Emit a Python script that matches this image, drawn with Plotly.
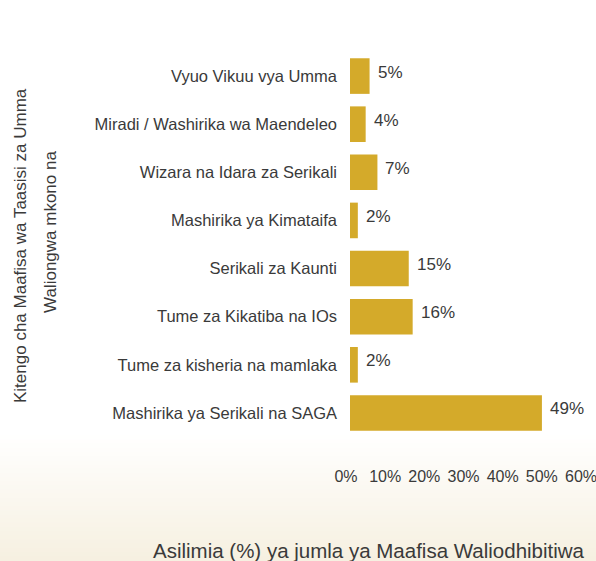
import plotly.graph_objects as go

categories = [
    "Vyuo Vikuu vya Umma",
    "Miradi / Washirika wa Maendeleo",
    "Wizara na Idara za Serikali",
    "Mashirika ya Kimataifa",
    "Serikali za Kaunti",
    "Tume za Kikatiba na IOs",
    "Tume za kisheria na mamlaka",
    "Mashirika ya Serikali na SAGA",
]
values = [5, 4, 7, 2, 15, 16, 2, 49]
labels = ["5%", "4%", "7%", "2%", "15%", "16%", "2%", "49%"]
tick_vals = [0, 10, 20, 30, 40, 50, 60]
tick_text = ["0%", "10%", "20%", "30%", "40%", "50%", "60%"]
y_title_lines = ["Kitengo cha Maafisa wa Taasisi za Umma", "Waliongwa mkono na"]
x_title = "Asilimia (%) ya jumla ya Maafisa Waliodhibitiwa"

W, H = 596, 561
ml, mr, mt, mb = 350, 11, 52, 124
plot_w = W - ml - mr
plot_h = H - mt - mb

font = "Liberation Sans, Arial, sans-serif"
txt = "#3a3a3a"


def px_x(x):
    return (x - ml) / plot_w


def px_y(y):
    return 1 - (y - mt) / plot_h


fig = go.Figure()
fig.add_trace(go.Bar(
    y=categories, x=values, orientation="h",
    marker=dict(color="#d4aa2a", line=dict(width=0)),
    hoverinfo="skip",
))

# background gradient strips (decorative)
shapes = []
n = 30
top_px, bot_px = 436, H
c0 = (255, 255, 255)
c1 = (246, 240, 224)
for i in range(n):
    y0px = top_px + (bot_px - top_px) * i / n
    y1px = top_px + (bot_px - top_px) * (i + 1) / n
    t = (i + 0.5) / n
    col = tuple(round(c0[k] + (c1[k] - c0[k]) * t) for k in range(3))
    shapes.append(dict(
        type="rect", xref="paper", yref="paper", layer="below",
        x0=px_x(0), x1=px_x(W),
        y0=px_y(y1px) - 0.002, y1=px_y(y0px) + 0.002,
        fillcolor="rgb(%d,%d,%d)" % col, line=dict(width=0),
    ))

annotations = [
    dict(x=v, y=c, text=t, xref="x", yref="y", xanchor="left",
         yanchor="middle", xshift=6, yshift=4, showarrow=False,
         font=dict(family=font, size=17, color=txt))
    for c, v, t in zip(categories, values, labels)
]
annotations += [
    dict(text=x_title, xref="paper", yref="paper", x=px_x(369),
         y=px_y(550), xanchor="center", yanchor="middle",
         showarrow=False, font=dict(family=font, size=20.5, color=txt)),
    dict(text=y_title_lines[0], xref="paper", yref="paper", x=px_x(21),
         y=px_y(246), xanchor="center", yanchor="middle",
         textangle=-90, showarrow=False,
         font=dict(family=font, size=17, color=txt)),
    dict(text=y_title_lines[1], xref="paper", yref="paper", x=px_x(51),
         y=px_y(232), xanchor="center", yanchor="middle",
         textangle=-90, showarrow=False,
         font=dict(family=font, size=17, color=txt)),
]

fig.update_layout(
    width=W, height=H,
    margin=dict(l=ml, r=mr, t=mt, b=mb, autoexpand=False),
    paper_bgcolor="white", plot_bgcolor="rgba(0,0,0,0)",
    showlegend=False, bargap=0.26,
    shapes=shapes,
    xaxis=dict(
        range=[0, 60], tickvals=tick_vals, ticktext=tick_text,
        showgrid=False, zeroline=False, showline=False, ticks="",
        tickfont=dict(family=font, size=16, color=txt),
        ticklabelstandoff=28, ticklabelshift=-4,
        ticklabeloverflow="allow", automargin=False,
    ),
    yaxis=dict(
        autorange="reversed", showgrid=False, zeroline=False, showline=False,
        ticks="", tickfont=dict(family=font, size=16.5, color=txt),
        ticklabelstandoff=12, automargin=False,
    ),
    annotations=annotations,
)

fig.write_html(
    "out.html",
    config={"displayModeBar": False},
    post_script="document.body.style.margin='0';document.body.style.padding='0';"
                "document.body.style.overflow='hidden';",
)
